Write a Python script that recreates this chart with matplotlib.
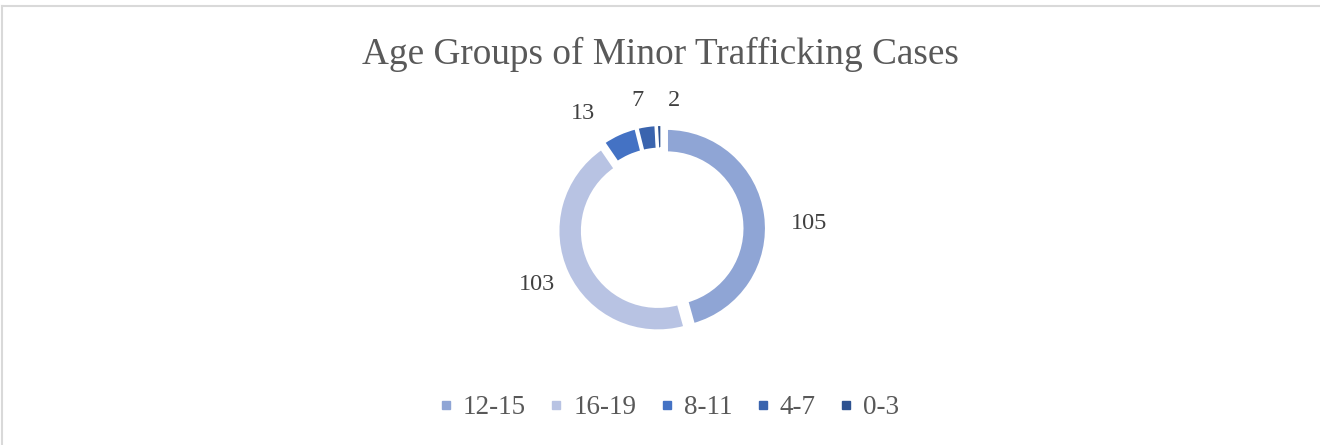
import numpy as np
import matplotlib
matplotlib.use("Agg")
import matplotlib.pyplot as plt
from matplotlib.lines import Line2D

categories = ["12-15", "16-19", "8-11", "4-7", "0-3"]
values = [105, 103, 13, 7, 2]
colors = ["#8FA5D5", "#B8C3E3", "#4472C4", "#3A64AE", "#2E5290"]
title = "Age Groups of Minor Trafficking Cases"

plt.rcParams["font.family"] = ["Liberation Serif", "DejaVu Serif"]

W, H = 1320, 445
fig = plt.figure(figsize=(W / 100, H / 100), dpi=100)
# chart frame (only top and left edges visible in the crop)
fig.add_artist(Line2D([2 / W, 2 / W], [0, 1 - 6 / H], transform=fig.transFigure,
                      color="#D9D9D9", linewidth=1.5))
fig.add_artist(Line2D([2 / W, 1], [1 - 6 / H, 1 - 6 / H], transform=fig.transFigure,
                      color="#D9D9D9", linewidth=1.5))

cx, cy, half = 662, 229, 115
ax = fig.add_axes([(cx - half) / W, (H - cy - half) / H, 2 * half / W, 2 * half / H])
ax.set_aspect("equal")
ax.axis("off")

wedges, _ = ax.pie(values, colors=colors, startangle=90, counterclock=False,
                   explode=[0.045] * len(values), radius=1.0,
                   wedgeprops=dict(width=0.245, edgecolor="white", linewidth=2.2))
ax.set_xlim(-1.15, 1.15)
ax.set_ylim(-1.15, 1.15)

# label placement (radius, angle nudge in degrees) per wedge
label_r = [1.47, 1.37, 1.40, 1.31, 1.29]
label_nudge = [-5.5, -1, 10, 2.0, -7.0]
for w, v, r, nd in zip(wedges, values, label_r, label_nudge):
    ang = np.deg2rad((w.theta1 + w.theta2) / 2 + nd)
    ax.text(r * np.cos(ang), r * np.sin(ang), str(v), ha="center", va="center",
            fontsize=17.5, color="#404040", clip_on=False)

fig.text(0.5, 1 - 54 / H, title, ha="center", va="center", fontsize=26.8, color="#595959")

handles = [Line2D([], [], linestyle="none", marker="s", markersize=5.2,
                  markerfacecolor=c, markeredgecolor=c) for c in colors]
leg = fig.legend(handles, categories, loc="center", bbox_to_anchor=(670 / W, 1 - 408 / H),
                 ncol=5, frameon=False, fontsize=19.5, handlelength=0.35,
                 handletextpad=0.45, columnspacing=0.95, labelcolor="#595959")

fig.savefig("out.png", dpi=100)
